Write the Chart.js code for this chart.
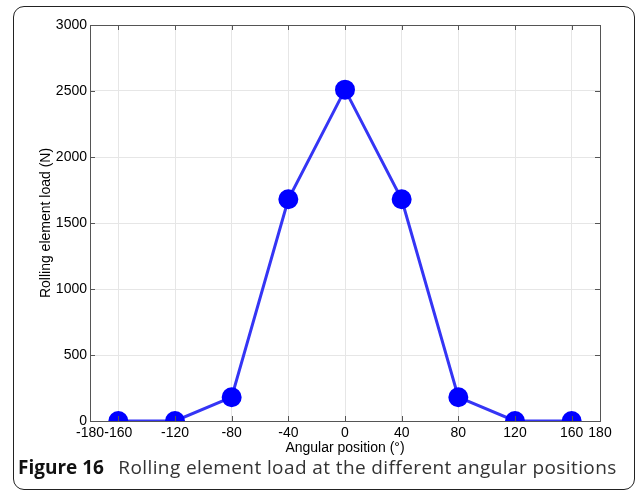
<!DOCTYPE html>
<html>
<head>
<meta charset="utf-8">
<script src="https://cdn.jsdelivr.net/npm/chart.js@4/dist/chart.umd.min.js"></script>
<style>
    body { margin: 0; background: #fff; }
    #frame {
        position: absolute; left: 13px; top: 6px; width: 622px; height: 484px;
        border: 1.5px solid #222; border-radius: 11px; box-sizing: border-box;
    }
    #wrap { position: absolute; left: 0; top: 0; width: 637px; height: 457px; }
    #caption {
        position: absolute; left: 18px; top: 454px; font-family: "Open Sans", sans-serif;
        font-size: 19px; letter-spacing: 0.4px; color: #333; white-space: nowrap;
    }
    #caption b { font-weight: 700; color: #111; margin-right: 9px; letter-spacing: 0; }
</style>
</head>
<body>
<div id="frame"></div>
<div id="wrap"><canvas id="loadChart" width="637" height="457"></canvas></div>
<div id="caption"><b>Figure 16</b> Rolling element load at the different angular positions</div>
<script>
const angles = [-160, -120, -80, -40, 0, 40, 80, 120, 160];
const loads = [0, 0, 180, 1680, 2510, 1680, 180, 0, 0];
const xTicks = [-180, -160, -120, -80, -40, 0, 40, 80, 120, 160, 180];
const yTicks = [0, 500, 1000, 1500, 2000, 2500, 3000];

// box around the plot plus inward tick marks
const frameBox = {
    id: "frameBox",
    afterDraw(chart) {
        const { ctx, chartArea: a, scales } = chart;
        ctx.save();
        ctx.strokeStyle = "#555";
        ctx.lineWidth = 1;
        ctx.strokeRect(a.left + 0.5, a.top + 0.5, a.right - a.left, a.bottom - a.top);
        ctx.beginPath();
        xTicks.forEach(v => {
            const px = Math.round(scales.x.getPixelForValue(v)) + 0.5;
            ctx.moveTo(px, a.bottom); ctx.lineTo(px, a.bottom - 5);
            ctx.moveTo(px, a.top); ctx.lineTo(px, a.top + 5);
        });
        yTicks.forEach(v => {
            const py = Math.round(scales.y.getPixelForValue(v)) + 0.5;
            ctx.moveTo(a.left, py); ctx.lineTo(a.left + 5, py);
            ctx.moveTo(a.right, py); ctx.lineTo(a.right - 5, py);
        });
        ctx.stroke();
        ctx.restore();
    }
};

const font = { family: "Liberation Sans, Arial, sans-serif", size: 14 };

new Chart(document.getElementById("loadChart"), {
    type: "line",
    data: {
        datasets: [{
            data: angles.map((a, i) => ({ x: a, y: loads[i] })),
            borderColor: "#3535f5",
            borderWidth: 3,
            backgroundColor: "#0000ff",
            pointBackgroundColor: "#0000ff",
            pointBorderColor: "#0000ff",
            pointRadius: 8.5,
            tension: 0
        }]
    },
    options: {
        responsive: false,
        animation: false,
        layout: { padding: { left: 38, right: 37, top: 25, bottom: 0 } },
        plugins: { legend: { display: false }, tooltip: { enabled: false } },
        scales: {
            x: {
                type: "linear",
                min: -180, max: 180,
                afterBuildTicks: s => { s.ticks = xTicks.map(v => ({ value: v })); },
                afterFit: s => { s.height = 36; },
                ticks: { autoSkip: false, maxRotation: 0, color: "#000", font, padding: 4, callback: v => v },
                grid: { color: "#e6e6e6", drawTicks: false },
                border: { display: false },
                title: { display: true, text: "Angular position (°)", color: "#000", font, padding: 0 }
            },
            y: {
                min: 0, max: 3000,
                afterBuildTicks: s => { s.ticks = yTicks.map(v => ({ value: v })); },
                afterFit: s => { s.width = 52; },
                ticks: { color: "#000", font, padding: 3, callback: v => v },
                grid: { color: "#e6e6e6", drawTicks: false },
                border: { display: false },
                title: { display: true, text: "Rolling element load (N)", color: "#000", font, padding: 0 }
            }
        }
    },
    plugins: [frameBox]
});
</script>
</body>
</html>
